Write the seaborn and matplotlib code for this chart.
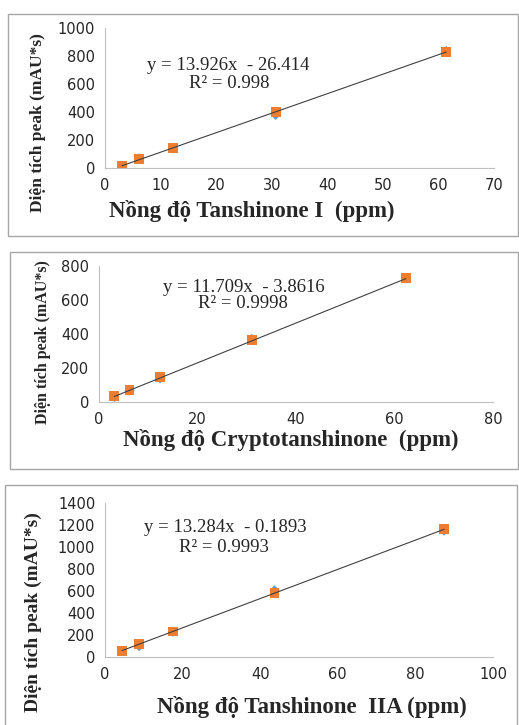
import matplotlib
matplotlib.use("Agg")
import matplotlib.pyplot as plt
from matplotlib.patches import Rectangle
import numpy as np
import pandas as pd
import seaborn as sns

sns.set_style("white")

# ---- data ----
t1_x = [3.07, 6.14, 12.28, 30.7, 61.4]
t1_std = [15, 62, 143, 400, 828]
t1_meas = [12, 68, 140, 380, 835]
t1_eq = (13.926, -26.414, "0.998")

ct_x = [3.1, 6.2, 12.4, 31.0, 62.3]
ct_std = [33, 72, 145, 363, 728]
ct_meas = [30, 68, 140, 370, 728]
ct_eq = (11.709, -3.8616, "0.9998")

t2_x = [4.4, 8.8, 17.5, 43.7, 87.4]
t2_std = [57, 120, 232, 580, 1165]
t2_meas = [55, 100, 230, 605, 1150]
t2_eq = (13.284, -0.1893, "0.9993")

xlabels = ["Nồng độ Tanshinone I  (ppm)", "Nồng độ Cryptotanshinone  (ppm)", "Nồng độ Tanshinone  IIA (ppm)"]
ylabel = "Diện tích peak (mAU*s)"
xlims = [(0, 70), (0, 80), (0, 100)]
xsteps = [10, 20, 20]
ylims = [(0, 1000), (0, 800), (0, 1400)]
ysteps = [200, 200, 200]

W, H = 519, 725
fig = plt.figure(figsize=(W / 100, H / 100), dpi=100)

def fx(px):
    return px / W

def fy(py):
    return 1 - py / H

# axes rectangles in pixels: left, right, top, bottom
axes_px = [(105, 494, 28, 168), (99, 493, 266, 402), (105, 493, 503, 657)]
borders_px = [(8, 518, 14, 236), (10, 518, 252, 469), (5, 517, 485, 740)]
eq_pos = [(228, 65, 229, 84), (244, 287, 243, 304), (225, 528, 224, 547)]
xlab_pos = [(252, 211), (291, 440), (312, 707)]
ylab_pos = [(38, 123), (43, 342), (33, 612)]
ylab_size = [12.5, 11.5, 14]

datasets = [(t1_x, t1_std, t1_meas, t1_eq), (ct_x, ct_std, ct_meas, ct_eq), (t2_x, t2_std, t2_meas, t2_eq)]

serif = "Liberation Serif"
for i, (xs, ystd, ymeas, eq) in enumerate(datasets):
    bl, br, bt, bb = borders_px[i]
    fig.patches.append(Rectangle((fx(bl), fy(bb)), fx(br - bl), (bb - bt) / H,
                                 transform=fig.transFigure, fill=False,
                                 edgecolor="#a6a6a6", lw=1.0))
    l, r, t, b = axes_px[i]
    ax = fig.add_axes([fx(l), fy(b), fx(r - l), (b - t) / H])
    df = pd.DataFrame({"x": xs, "std": ystd, "meas": ymeas})
    slope, icpt, r2 = eq
    xx = np.array([min(xs), max(xs)])
    line_df = pd.DataFrame({"x": xx, "y": slope * xx + icpt})
    sns.scatterplot(data=df, x="x", y="meas", ax=ax, marker="D", s=28,
                    color="#5B9BD5", edgecolor="none", zorder=2)
    sns.scatterplot(data=df, x="x", y="std", ax=ax, marker="s", s=50,
                    color="#ED7D31", edgecolor="none", zorder=3)
    sns.lineplot(data=line_df, x="x", y="y", ax=ax, color="#404040", lw=0.8, zorder=4)
    ax.set_xlim(*xlims[i])
    ax.set_ylim(*ylims[i])
    ax.set_xticks(np.arange(xlims[i][0], xlims[i][1] + 1, xsteps[i]))
    ax.set_yticks(np.arange(ylims[i][0], ylims[i][1] + 1, ysteps[i]))
    ax.set_xlabel("")
    ax.set_ylabel("")
    for s in ["top", "right"]:
        ax.spines[s].set_visible(False)
    for s in ["left", "bottom"]:
        ax.spines[s].set_color("#bfbfbf")
        ax.spines[s].set_linewidth(0.8)
    ax.tick_params(axis="both", direction="out", length=4, width=0.8, color="#bfbfbf",
                   labelsize=10.5, labelcolor="#262626", pad=3)
    ax.tick_params(axis="y", length=4, pad=3)
    ax.patch.set_alpha(0)
    sign = "-" if icpt < 0 else "+"
    ex, ey, rx, ry = eq_pos[i]
    fig.text(fx(ex), fy(ey), f"y = {slope:g}x  {sign} {abs(icpt):g}", ha="center", va="center",
             family=serif, fontsize=13.5)
    fig.text(fx(rx), fy(ry), f"R² = {r2}", ha="center", va="center", family=serif, fontsize=13.5)
    lx, ly = xlab_pos[i]
    fig.text(fx(lx), fy(ly), xlabels[i], ha="center", va="center", family=serif,
             fontweight="bold", fontsize=16.5)
    yx, yy = ylab_pos[i]
    fig.text(fx(yx), fy(yy), ylabel, ha="center", va="center", rotation=90, family=serif,
             fontweight="bold", fontsize=ylab_size[i])

fig.savefig("out.png", dpi=100)
